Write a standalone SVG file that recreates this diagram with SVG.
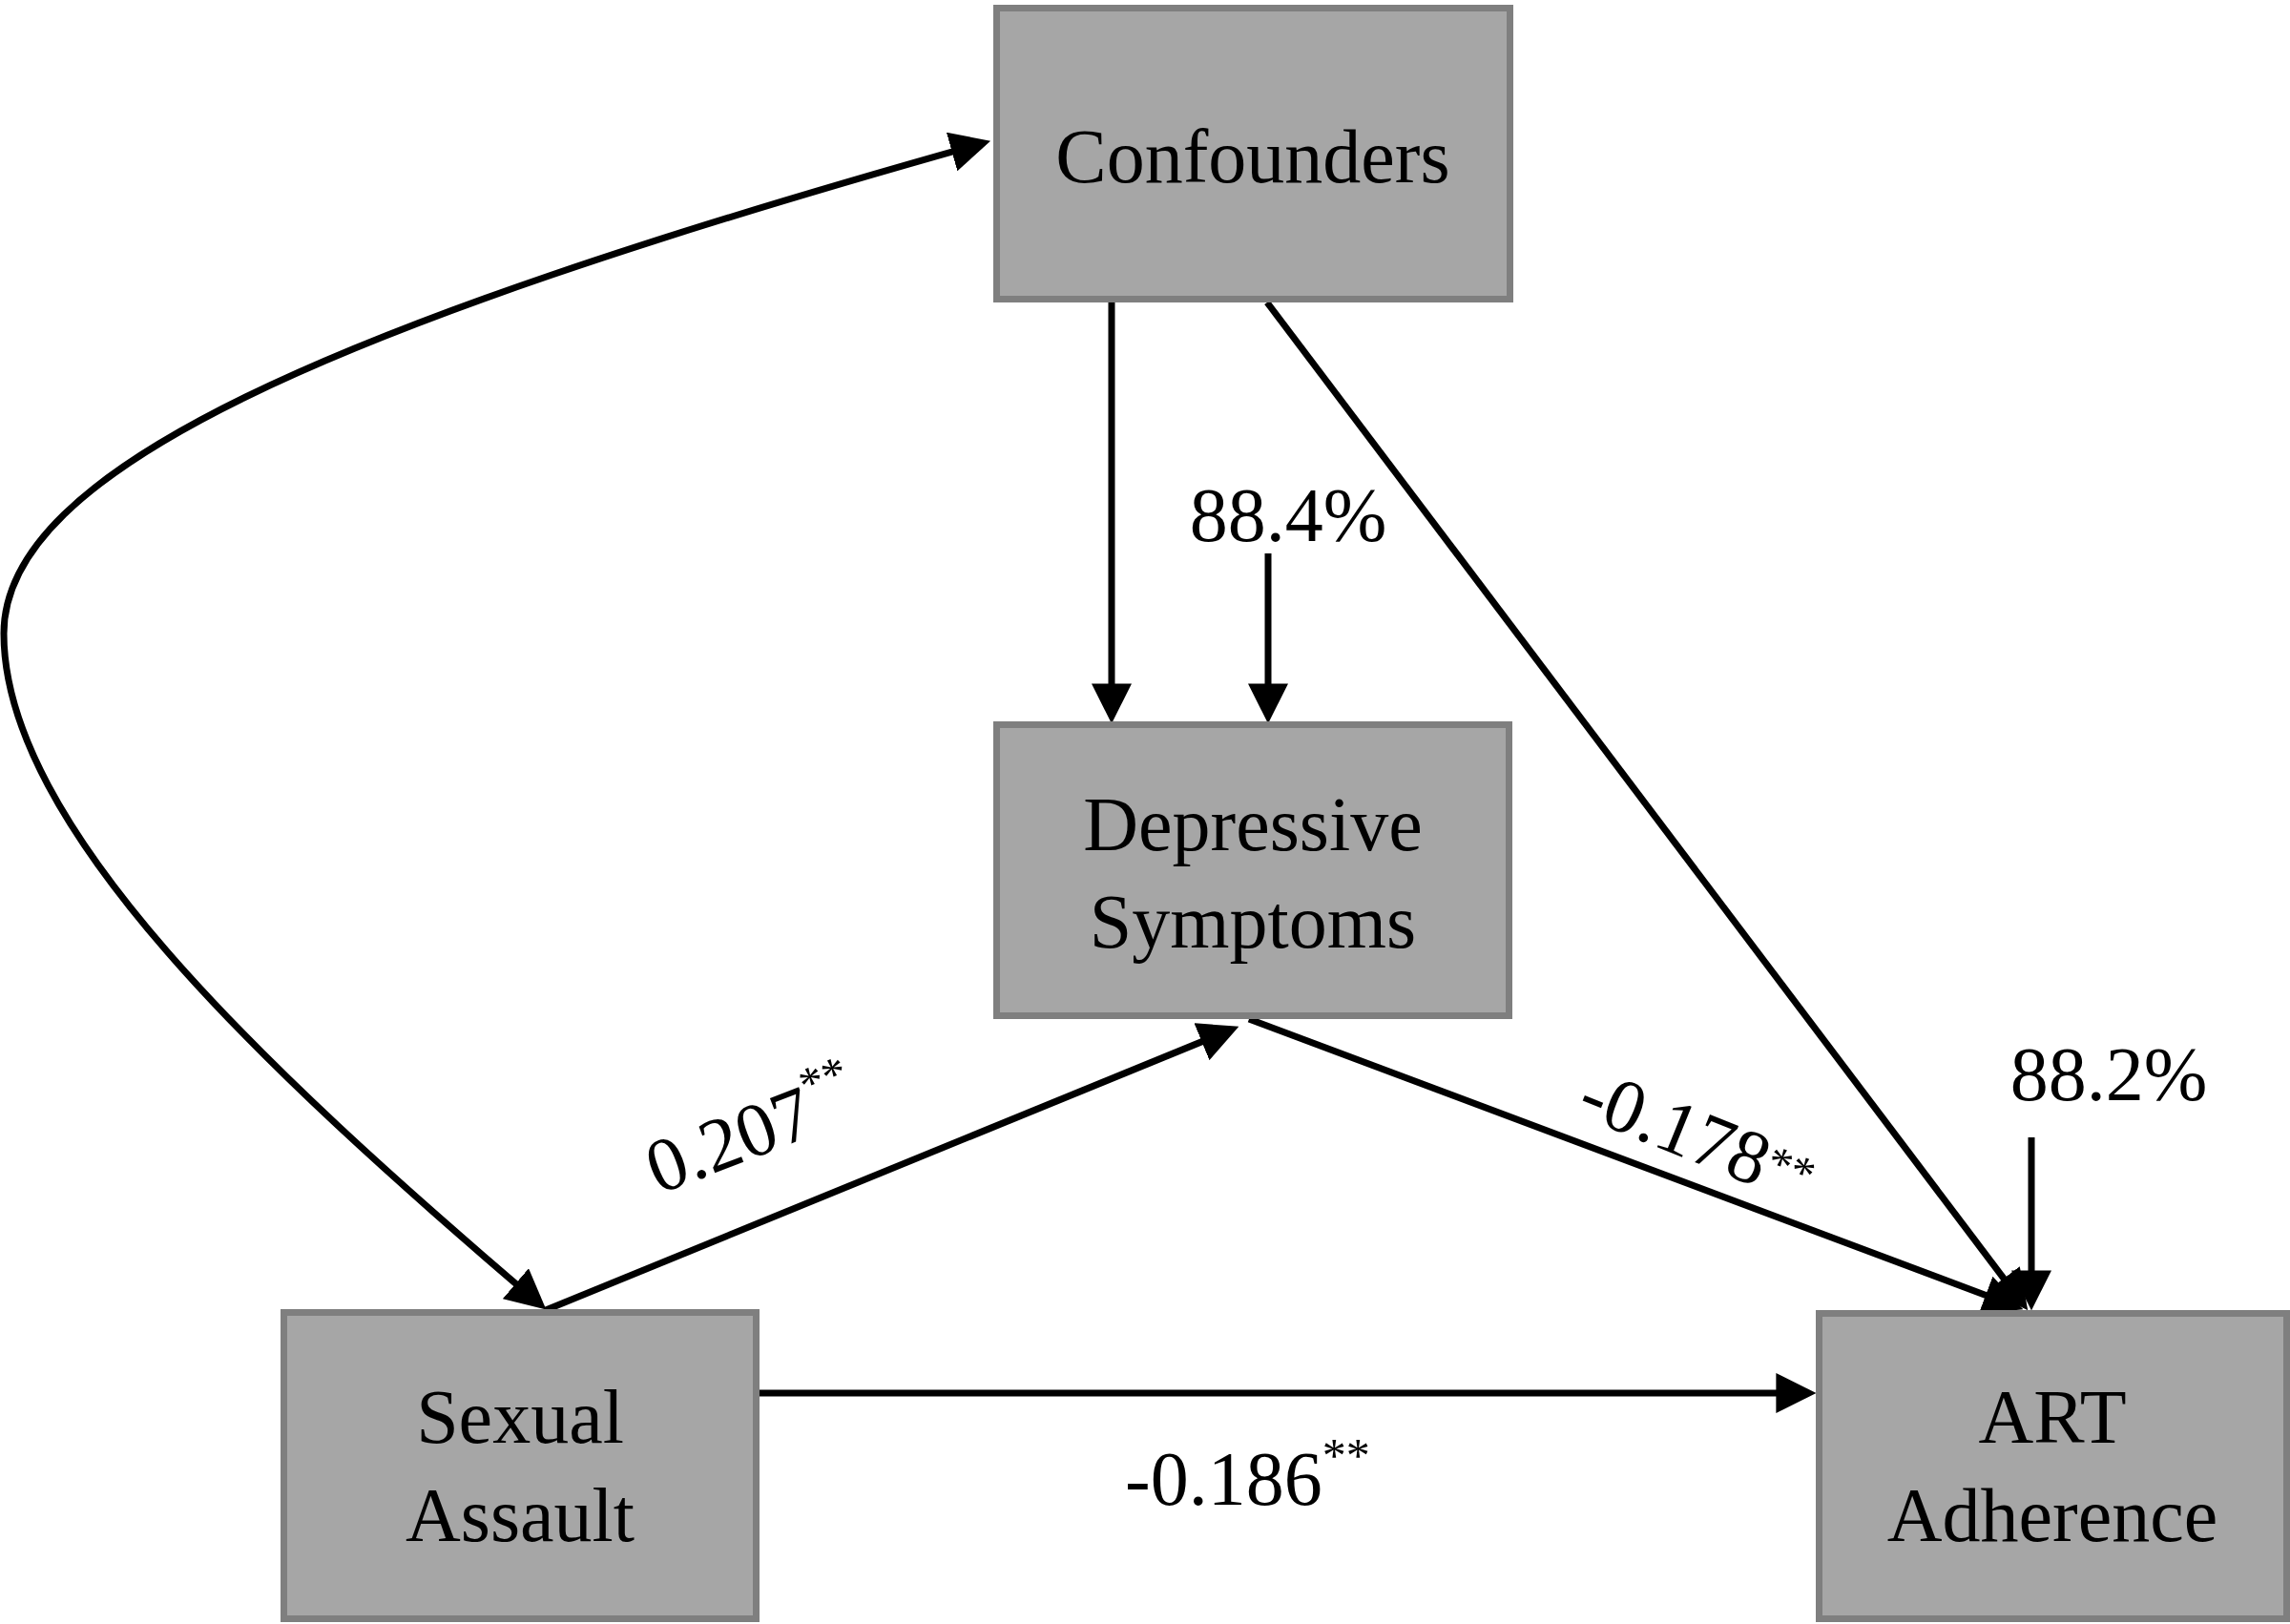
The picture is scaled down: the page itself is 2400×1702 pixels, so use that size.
<svg xmlns="http://www.w3.org/2000/svg" width="2400" height="1702" viewBox="0 0 2400 1702">
<style>
.box{fill:#a6a6a6;stroke:#7f7f7f;stroke-width:7}
.t{font-family:"Liberation Serif","Times New Roman",serif;font-size:80px;fill:#000}
.c{text-anchor:middle}
.ln{fill:none;stroke:#000;stroke-width:7}
</style>
<defs>
<marker id="ah" markerUnits="userSpaceOnUse" markerWidth="42" markerHeight="42" refX="32" refY="20" orient="auto-start-reverse" viewBox="0 0 40 40">
<path d="M0,0 L40,20 L0,40 Z" fill="#000"/>
</marker>
</defs>
<rect width="2400" height="1702" fill="#fff"/>
<g id="connectors">
<path class="ln" d="M1165,317 L1165,750" marker-end="url(#ah)"/>
<path class="ln" d="M1329,580 L1329,750" marker-end="url(#ah)"/>
<path class="ln" d="M1328,317 L2120.2,1366.6" marker-end="url(#ah)"/>
<path class="ln" d="M1309,1068 L2112.5,1369.2" marker-end="url(#ah)"/>
<path class="ln" d="M2129,1192 L2129,1365" marker-end="url(#ah)"/>
<path class="ln" d="M796,1460 L1895,1460" marker-end="url(#ah)"/>
<path class="ln" d="M572,1373 L1290.6,1079" marker-end="url(#ah)"/>
<path class="ln" d="M1030,150 C338,344 4,494 4,664 C4,864 272,1117 566,1367" marker-start="url(#ah)" marker-end="url(#ah)"/>
</g>
<g id="labels">
<text class="t c" x="1350" y="567">88.4%</text>
<text class="t c" x="2210" y="1153">88.2%</text>
<text class="t" x="1179" y="1577">-0.186<tspan font-size="50" dy="-35">**</tspan></text>
<text class="t" transform="translate(690,1252) rotate(-21)">0.207<tspan font-size="50" dy="-35">**</tspan></text>
<text class="t" transform="translate(1650,1167) rotate(22)">-0.178<tspan font-size="50" dy="-15">**</tspan></text>
</g>
<g id="node-confounders">
<rect class="box" x="1044.5" y="8.5" width="538" height="305"/>
<text class="t c" x="1313" y="191">Confounders</text>
</g>
<g id="node-depressive">
<rect class="box" x="1044.5" y="759.5" width="537" height="305"/>
<text class="t c" x="1313" y="891">Depressive</text>
<text class="t c" x="1313" y="993">Symptoms</text>
</g>
<g id="node-sexual">
<rect class="box" x="297.5" y="1375.5" width="495" height="321"/>
<text class="t c" x="545" y="1512">Sexual</text>
<text class="t c" x="545" y="1615">Assault</text>
</g>
<g id="node-art">
<rect class="box" x="1906.5" y="1376.5" width="490" height="320"/>
<text class="t c" x="2151" y="1512">ART</text>
<text class="t c" x="2151" y="1615">Adherence</text>
</g>
</svg>
